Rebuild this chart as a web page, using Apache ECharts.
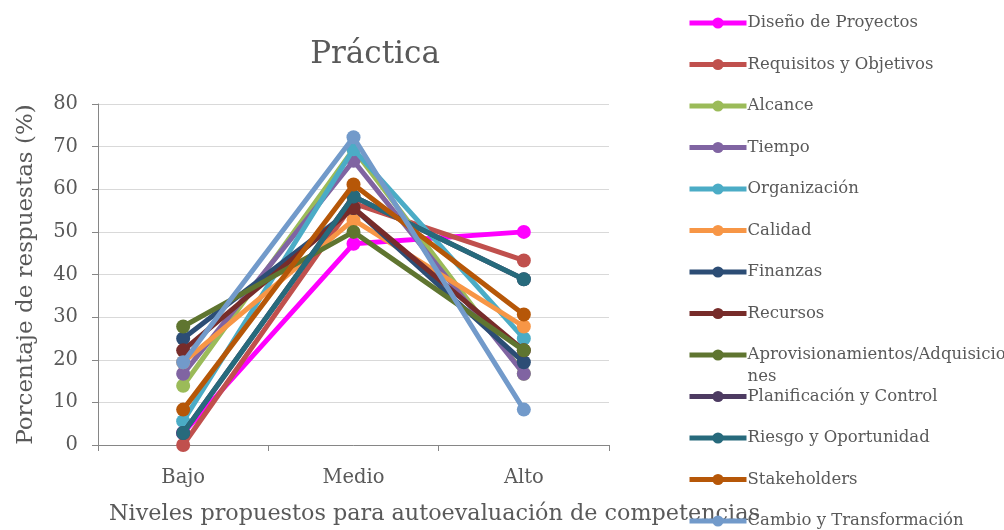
<!DOCTYPE html>
<html><head><meta charset="utf-8">
<script src="https://cdn.jsdelivr.net/npm/echarts@6/dist/echarts.min.js"></script>
<style>html,body{margin:0;padding:0;background:#fff}#c{width:1004px;height:530px}</style>
</head><body><div id="c"></div>
<script>
const categories = ['Bajo', 'Medio', 'Alto'];
const yTicks = [0, 10, 20, 30, 40, 50, 60, 70, 80];
const seriesNames = ['Diseño de Proyectos','Requisitos y Objetivos','Alcance','Tiempo','Organización','Calidad','Finanzas','Recursos','Aprovisionamientos/Adquisiciones','Planificación y Control','Riesgo y Oportunidad','Stakeholders','Cambio y Transformación'];
const disenoProyectos = [2.8, 47.2, 50.0];
const requisitosObjetivos = [0.0, 56.7, 43.3];
const alcance = [13.9, 69.4, 16.7];
const tiempo = [16.7, 66.7, 16.7];
const organizacion = [5.6, 69.4, 25.0];
const calidad = [19.4, 52.8, 27.8];
const finanzas = [25.0, 55.6, 19.4];
const recursos = [22.2, 55.6, 22.2];
const aprovisionamientos = [27.8, 50.0, 22.2];
const planificacion = [2.8, 58.3, 38.9];
const riesgo = [2.8, 58.3, 38.9];
const stakeholders = [8.3, 61.1, 30.6];
const cambio = [19.4, 72.2, 8.3];
const seriesValues = [disenoProyectos, requisitosObjetivos, alcance, tiempo, organizacion, calidad, finanzas, recursos, aprovisionamientos, planificacion, riesgo, stakeholders, cambio];
const colors = ['#FF00FF','#C0504D','#9BBB59','#8064A2','#4BACC6','#F79646','#2C4D75','#772C2A','#5F7530','#4D3B62','#276A7C','#B65708','#729ACA'];

const FONT = 'DejaVu Serif';
const TXT = '#595959';

const legends = seriesNames.map((n, i) => ({
  data: [n],
  left: 687,
  padding: 0,
  top: (i === 8 ? 23 + i * 41.5 - 33 : 23 + i * 41.5 - 11),
  itemWidth: 57,
  itemHeight: 14,
  selectedMode: false,
  lineStyle: { width: 5 },
  textStyle: { fontFamily: FONT, fontSize: 16.5, color: TXT, padding: [0, 0, 0, -4], lineHeight: 22 },
  formatter: (name) => name === 'Aprovisionamientos/Adquisiciones' ? '\u00a0\nAprovisionamientos/Adquisicio\nnes' : name
}));

const option = {
  backgroundColor: '#fff',
  animation: false,
  color: colors,
  title: {
    text: 'Práctica', left: 370, top: 34, textAlign: 'center',
    textStyle: { fontFamily: FONT, fontSize: 31, fontWeight: 'normal', color: TXT }
  },
  legend: legends,
  grid: { left: 98, right: 395, top: 104, bottom: 85 },
  xAxis: {
    type: 'category', data: categories, boundaryGap: true,
    axisLine: { lineStyle: { color: '#868686', width: 1 } },
    axisTick: { show: true, length: 6, lineStyle: { color: '#868686' } },
    axisLabel: { fontFamily: FONT, fontSize: 19.5, color: TXT, margin: 23 },
    name: 'Niveles propuestos para autoevaluación de competencias',
    nameLocation: 'middle', nameGap: 58,
    nameTextStyle: { fontFamily: FONT, fontSize: 22.3, color: TXT, padding: [0, 0, 0, 162] }
  },
  yAxis: {
    type: 'value', min: 0, max: 80, interval: 10,
    axisLine: { show: true, lineStyle: { color: '#868686', width: 1 } },
    axisTick: { show: true, length: 6, lineStyle: { color: '#868686' } },
    axisLabel: { fontFamily: FONT, fontSize: 19.5, color: TXT, margin: 20,
      formatter: (v) => yTicks.includes(v) ? String(v) : '' },
    splitLine: { lineStyle: { color: '#D9D9D9', width: 1 } },
    name: 'Porcentaje de respuestas (%)', nameLocation: 'middle', nameGap: 60, nameRotate: 90,
    nameTextStyle: { fontFamily: FONT, fontSize: 23, color: TXT }
  },
  series: seriesNames.map((n, i) => ({
    name: n, type: 'line', data: seriesValues[i],
    symbol: 'circle', symbolSize: 14,
    lineStyle: { width: 5, color: colors[i] },
    itemStyle: { color: colors[i] },
    z: 2 + i
  }))
};
const chart = echarts.init(document.getElementById('c'), null, { renderer: 'canvas' });
chart.setOption(option);
</script></body></html>
